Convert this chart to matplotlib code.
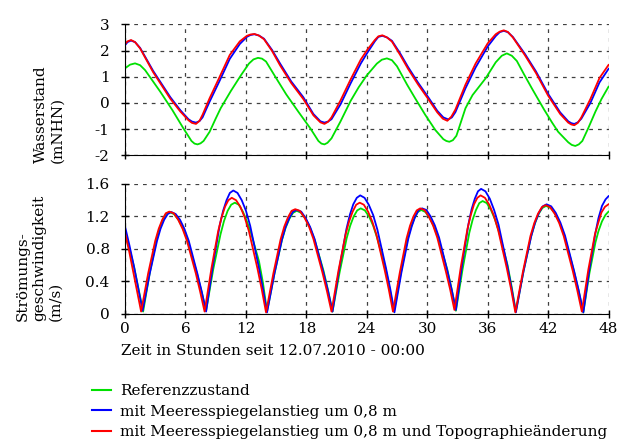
import numpy as np
import matplotlib
matplotlib.use('Agg')
import matplotlib.pyplot as plt
from matplotlib.lines import Line2D

plt.rcParams['font.family'] = ['DejaVu Serif']
plt.rcParams['font.size'] = 11
plt.rcParams['axes.unicode_minus'] = False

# --- Wasserstand (mNHN) ---
wl_ref_h = [0, 0.5, 1.0, 1.5, 2.0, 3.5, 4.7, 5.8, 6.6, 6.9, 7.2, 7.5, 7.8, 8.4, 9.0, 9.5, 10.5, 11.5,
            12.3, 12.75, 13.2, 13.6, 14.0, 15.0, 16.0, 17.2, 18.4, 19.2, 19.5, 19.8, 20.1, 20.5,
            21.4, 22.4, 23.2, 24.0, 25.0, 25.5, 26.0, 26.5, 27.0, 28.0, 28.8, 29.8, 30.8, 31.6,
            31.9, 32.2, 32.55, 32.9, 33.8, 34.5, 35.8, 36.8, 37.4, 37.9, 38.4, 38.9, 39.6, 40.4,
            41.6, 42.4, 43.0, 44.0, 44.35, 44.7, 45.05, 45.4, 46.0, 46.7, 47.3, 48.0]
wl_ref = [1.32, 1.46, 1.51, 1.44, 1.25, 0.43, -0.27, -0.97, -1.45, -1.55, -1.58, -1.54, -1.45, -1.1,
          -0.6, -0.2, 0.45, 1.05, 1.5, 1.66, 1.72, 1.69, 1.58, 0.95, 0.33, -0.33, -0.97, -1.45,
          -1.55, -1.58, -1.52, -1.35, -0.7, 0.08, 0.6, 1.05, 1.5, 1.65, 1.70, 1.63, 1.4, 0.7, 0.18,
          -0.45, -1.03, -1.38, -1.45, -1.48, -1.42, -1.25, -0.2, 0.3, 0.94, 1.55, 1.8, 1.89, 1.8,
          1.6, 1.1, 0.55, -0.25, -0.75, -1.1, -1.5, -1.6, -1.64, -1.58, -1.45, -0.95, -0.33, 0.15,
          0.62]

wl_slr_h = [0, 0.25, 0.6, 1.0, 1.5, 2.8, 4.5, 5.5, 6.3, 6.65, 7.05, 7.4, 7.7, 8.4, 9.4, 10.4, 11.4,
            12.1, 12.45, 12.85, 13.3, 13.8, 14.6, 15.4, 16.5, 17.7, 18.7, 19.4, 19.8, 20.15, 20.5,
            21.4, 22.4, 23.4, 24.0, 24.8, 25.15, 25.55, 26.0, 26.5, 27.3, 28.1, 29.1, 30.1, 31.0,
            31.6, 32.1, 32.45, 32.8, 33.8, 34.8, 36.0, 36.8, 37.2, 37.6, 38.0, 38.5, 39.7, 40.8,
            42.0, 43.2, 44.0, 44.3, 44.6, 44.95, 45.3, 46.2, 47.1, 48.0]
wl_slr = [2.2, 2.32, 2.38, 2.32, 2.1, 1.22, 0.22, -0.28, -0.62, -0.71, -0.75, -0.69, -0.55, 0.05,
          0.85, 1.68, 2.25, 2.52, 2.59, 2.62, 2.57, 2.45, 2.02, 1.5, 0.82, 0.22, -0.42, -0.7, -0.75,
          -0.71, -0.62, -0.05, 0.75, 1.5, 1.88, 2.35, 2.52, 2.56, 2.5, 2.37, 1.9, 1.37, 0.77, 0.22,
          -0.3, -0.55, -0.63, -0.55, -0.35, 0.56, 1.35, 2.15, 2.55, 2.7, 2.75, 2.7, 2.52, 1.87, 1.2,
          0.35, -0.36, -0.7, -0.77, -0.8, -0.74, -0.6, 0.0, 0.78, 1.3]

wl_topo_h = [0, 0.25, 0.6, 1.0, 1.5, 2.8, 4.5, 5.5, 6.3, 6.65, 7.05, 7.4, 7.7, 8.4, 9.4, 10.4, 11.4,
             12.1, 12.45, 12.85, 13.3, 13.8, 14.6, 15.4, 16.5, 17.7, 18.7, 19.4, 19.8, 20.15, 20.5,
             21.4, 22.4, 23.4, 24.0, 24.8, 25.15, 25.55, 26.0, 26.5, 27.3, 28.1, 29.1, 30.1, 31.0,
             31.55, 32.0, 32.4, 32.8, 33.8, 34.8, 36.0, 36.8, 37.2, 37.6, 38.0, 38.5, 39.7, 40.8,
             42.0, 43.2, 44.0, 44.3, 44.6, 44.95, 45.3, 46.2, 47.1, 48.0]
wl_topo = [2.25, 2.35, 2.40, 2.32, 2.08, 1.17, 0.16, -0.33, -0.66, -0.76, -0.80, -0.68, -0.45, 0.18,
           1.0, 1.83, 2.35, 2.56, 2.61, 2.63, 2.57, 2.43, 1.98, 1.43, 0.76, 0.15, -0.47, -0.74, -0.8,
           -0.72, -0.55, 0.1, 0.9, 1.65, 2.0, 2.4, 2.54, 2.58, 2.5, 2.34, 1.84, 1.3, 0.7, 0.15,
           -0.36, -0.6, -0.68, -0.52, -0.25, 0.7, 1.5, 2.27, 2.62, 2.72, 2.77, 2.71, 2.5, 1.82,
           1.14, 0.28, -0.42, -0.75, -0.82, -0.85, -0.76, -0.55, 0.15, 0.95, 1.45]

# --- Strömungsgeschwindigkeit (m/s) ---
v_ref_h = [0, 0.45, 0.9, 1.8,
           2.45, 3.1, 3.43, 3.75, 4.08, 4.4,
           4.86, 5.31, 5.77, 6.23, 7.14, 7.59, 8.05,
           8.76, 9.48, 9.83, 10.19, 10.54, 10.9,
           11.3, 11.7, 12.1, 12.5, 13.3, 13.7, 14.1,
           14.84, 15.58, 15.94, 16.31, 16.68, 17.05,
           17.49, 17.94, 18.38, 18.83, 19.71, 20.16, 20.6,
           21.3, 22.0, 22.35, 22.7, 23.05, 23.4,
           23.81, 24.23, 24.64, 25.05, 25.88, 26.29, 26.7,
           27.38, 28.05, 28.39, 28.73, 29.06, 29.4,
           29.83, 30.26, 30.69, 31.13, 31.99, 32.42, 32.85,
           33.51, 34.18, 34.51, 34.84, 35.17, 35.5,
           35.91, 36.33, 36.74, 37.15, 37.98, 38.39, 38.8,
           39.55, 40.3, 40.68, 41.05, 41.43, 41.8,
           42.26, 42.73, 43.19, 43.65, 44.58, 45.04, 45.5,
           46.1, 46.7, 47.0, 47.35, 47.7, 48.0]
v_ref = [0.98, 0.80, 0.58, 0.03,
         0.50, 0.90, 1.05, 1.16, 1.23, 1.255,
         1.23, 1.16, 1.05, 0.90, 0.50, 0.28, 0.04,
         0.55, 0.98, 1.145, 1.27, 1.345, 1.37,
         1.345, 1.26, 1.14, 1.0, 0.65, 0.38, 0.03,
         0.50, 0.91, 1.06, 1.17, 1.245, 1.27,
         1.245, 1.17, 1.06, 0.91, 0.53, 0.29, 0.03,
         0.51, 0.93, 1.085, 1.20, 1.275, 1.30,
         1.275, 1.20, 1.085, 0.93, 0.55, 0.30, 0.03,
         0.505, 0.92, 1.07, 1.18, 1.255, 1.28,
         1.255, 1.18, 1.07, 0.92, 0.55, 0.31, 0.04,
         0.55, 1.0, 1.16, 1.28, 1.365, 1.39,
         1.365, 1.28, 1.16, 1.0, 0.60, 0.33, 0.03,
         0.52, 0.95, 1.11, 1.23, 1.305, 1.33,
         1.305, 1.23, 1.11, 0.95, 0.52, 0.28, 0.02,
         0.50, 0.88, 1.02, 1.14, 1.22, 1.26]

v_slr_h = [0, 0.45, 0.9, 1.75,
           2.46, 3.18, 3.53, 3.89, 4.24, 4.6,
           5.03, 5.46, 5.89, 6.33, 7.19, 7.62, 8.05,
           8.73, 9.4, 9.74, 10.08, 10.41, 10.75,
           11.17, 11.59, 12.01, 12.43, 13.26, 13.68, 14.1,
           14.84, 15.58, 15.94, 16.31, 16.68, 17.05,
           17.49, 17.94, 18.38, 18.83, 19.71, 20.16, 20.6,
           21.29, 21.98, 22.32, 22.66, 23.01, 23.35,
           23.78, 24.2, 24.63, 25.05, 25.9, 26.33, 26.75,
           27.44, 28.13, 28.47, 28.81, 29.16, 29.5,
           29.92, 30.34, 30.76, 31.18, 32.01, 32.43, 32.85,
           33.48, 34.1, 34.41, 34.73, 35.04, 35.35,
           35.78, 36.21, 36.64, 37.08, 37.94, 38.37, 38.8,
           39.56, 40.33, 40.71, 41.09, 41.47, 41.85,
           42.31, 42.76, 43.22, 43.68, 44.59, 45.04, 45.5,
           46.1, 46.7, 47.0, 47.35, 47.7, 48.0]
v_slr = [1.08, 0.84, 0.58, 0.04,
         0.50, 0.90, 1.05, 1.16, 1.23, 1.255,
         1.23, 1.16, 1.05, 0.90, 0.495, 0.275, 0.03,
         0.60, 1.09, 1.27, 1.40, 1.49, 1.52,
         1.49, 1.40, 1.27, 1.085, 0.59, 0.32, 0.02,
         0.50, 0.915, 1.07, 1.18, 1.26, 1.28,
         1.26, 1.18, 1.07, 0.92, 0.505, 0.28, 0.03,
         0.57, 1.045, 1.22, 1.35, 1.43, 1.46,
         1.43, 1.345, 1.22, 1.04, 0.57, 0.31, 0.02,
         0.51, 0.93, 1.08, 1.20, 1.28, 1.30,
         1.28, 1.20, 1.09, 0.94, 0.525, 0.30, 0.05,
         0.62, 1.11, 1.29, 1.42, 1.51, 1.54,
         1.51, 1.42, 1.28, 1.10, 0.60, 0.32, 0.02,
         0.525, 0.96, 1.125, 1.245, 1.325, 1.35,
         1.325, 1.245, 1.125, 0.965, 0.525, 0.29, 0.02,
         0.55, 1.0, 1.18, 1.33, 1.41, 1.45]

v_topo_h = [0, 0.4, 0.8, 1.6,
            2.3, 3.0, 3.35, 3.7, 4.05, 4.4,
            4.84, 5.28, 5.71, 6.15, 7.03, 7.46, 7.9,
            8.58, 9.25, 9.59, 9.93, 10.26, 10.6,
            11.03, 11.45, 11.88, 12.3, 13.15, 13.58, 14.0,
            14.73, 15.45, 15.81, 16.18, 16.54, 16.9,
            17.35, 17.8, 18.25, 18.7, 19.6, 20.05, 20.5,
            21.2, 21.9, 22.25, 22.6, 22.95, 23.3,
            23.71, 24.13, 24.54, 24.95, 25.78, 26.19, 26.6,
            27.28, 27.95, 28.29, 28.63, 28.96, 29.3,
            29.73, 30.15, 30.58, 31.0, 31.85, 32.28, 32.7,
            33.35, 34.0, 34.33, 34.65, 34.98, 35.3,
            35.73, 36.16, 36.59, 37.03, 37.89, 38.32, 38.75,
            39.5, 40.25, 40.63, 41.0, 41.38, 41.75,
            42.2, 42.65, 43.1, 43.55, 44.45, 44.9, 45.35,
            46.0, 46.65, 47.0, 47.3, 47.65, 48.0]
v_topo = [1.0, 0.78, 0.53, 0.03,
          0.50, 0.90, 1.05, 1.16, 1.24, 1.26,
          1.24, 1.16, 1.05, 0.90, 0.50, 0.275, 0.03,
          0.56, 1.02, 1.19, 1.32, 1.40, 1.43,
          1.40, 1.32, 1.19, 1.02, 0.56, 0.30, 0.02,
          0.50, 0.92, 1.075, 1.19, 1.27, 1.29,
          1.27, 1.19, 1.08, 0.925, 0.51, 0.28, 0.03,
          0.54, 0.98, 1.14, 1.26, 1.345, 1.37,
          1.345, 1.26, 1.14, 0.98, 0.54, 0.30, 0.03,
          0.51, 0.93, 1.085, 1.20, 1.275, 1.30,
          1.28, 1.20, 1.09, 0.94, 0.525, 0.30, 0.05,
          0.59, 1.05, 1.22, 1.35, 1.43, 1.46,
          1.43, 1.345, 1.22, 1.04, 0.57, 0.31, 0.02,
          0.52, 0.96, 1.12, 1.235, 1.315, 1.34,
          1.315, 1.235, 1.12, 0.96, 0.53, 0.29, 0.03,
          0.55, 0.98, 1.13, 1.25, 1.32, 1.35]

labels = ['Referenzzustand',
          'mit Meeresspiegelanstieg um 0,8 m',
          'mit Meeresspiegelanstieg um 0,8 m und Topographieänderung']
colors = ['#00e000', '#0000ff', '#ff0000']

fig = plt.figure(figsize=(6.2, 4.44), dpi=100)
ax1 = fig.add_axes([0.2016, 0.650, 0.7799, 0.2953])
ax2 = fig.add_axes([0.2016, 0.2928, 0.7799, 0.2928])

ax1.plot(wl_ref_h, wl_ref, color=colors[0], lw=1.3)
ax1.plot(wl_slr_h, wl_slr, color=colors[1], lw=1.3)
ax1.plot(wl_topo_h, wl_topo, color=colors[2], lw=1.3)

ax2.plot(v_ref_h, v_ref, color=colors[0], lw=1.3)
ax2.plot(v_slr_h, v_slr, color=colors[1], lw=1.3)
ax2.plot(v_topo_h, v_topo, color=colors[2], lw=1.3)

for ax in (ax1, ax2):
    ax.set_xlim(0, 48)
    ax.set_xticks(np.arange(0, 49, 6))
    ax.spines['top'].set_visible(False)
    ax.spines['right'].set_visible(False)
    ax.grid(True, color='0.25', linestyle=(0, (3, 4)), lw=0.9)
    ax.tick_params(direction='inout', length=6, width=1, pad=3)
    ax.tick_params(axis='y', pad=8)

ax1.set_ylim(-2, 3)
ax1.set_yticks([-2, -1, 0, 1, 2, 3])
ax1.tick_params(axis='x', labelbottom=False)

ax2.set_ylim(0, 1.6)
ax2.set_yticks([0, 0.4, 0.8, 1.2, 1.6])
ax2.set_yticklabels(['0', '0.4', '0.8', '1.2', '1.6'])

fig.text(0.079, 0.633, 'Wasserstand\n(mNHN)', rotation=90, ha='center', va='bottom',
         multialignment='left')
fig.text(0.063, 0.277, 'Strömungs-\ngeschwindigkeit\n(m/s)', rotation=90, ha='center',
         va='bottom', multialignment='left')
fig.text(121 / 620, 1 - 351 / 444, 'Zeit in Stunden seit 12.07.2010 - 00:00', ha='left', va='center')

handles = [Line2D([], [], color=c, lw=1.5) for c in colors]
fig.legend(handles, labels, loc='upper left', bbox_to_anchor=(92 / 620, 1 - 384 / 444),
           frameon=False, handlelength=1.24, handletextpad=0.6, labelspacing=0.44,
           borderaxespad=0, borderpad=0)

fig.savefig('out.png', dpi=100)
